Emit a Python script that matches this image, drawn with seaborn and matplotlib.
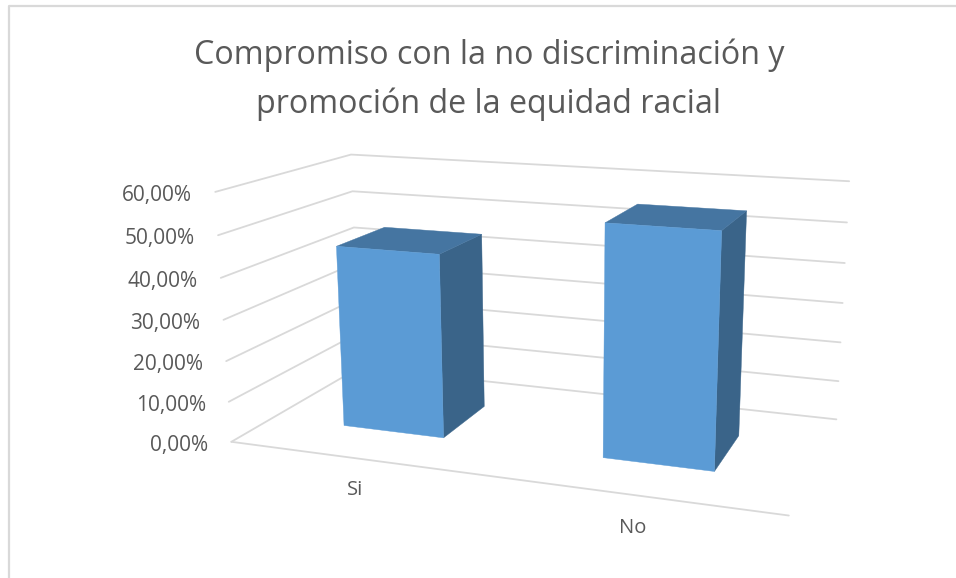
import matplotlib
matplotlib.use('Agg')
import matplotlib.pyplot as plt
import numpy as np
import pandas as pd
import seaborn as sns

# 图表数据
categories = ['Si', 'No']
values = [45.0, 55.0]
tick_values = [0, 10, 20, 30, 40, 50, 60]
tick_labels = ['0,00%', '10,00%', '20,00%', '30,00%', '40,00%', '50,00%', '60,00%']
title_text = 'Compromiso con la no discriminación y\npromoción de la equidad racial'

# bar footprint inside the floor, as fractions of width and depth
bar_spans = [(0.147, 0.348), (0.65, 0.847)]
depth_span = (0.30, 0.69)

FRONT = '#5B9BD5'
TOP = '#4575A1'
SIDE = '#3A6489'
GRID = '#D9D9D9'
TEXT = '#595959'

# box corners -> picture pixels, used to fit the camera of the fake 3d chart
anchors = [
    ((0, 0, 0), (231, 442)), ((0, 0, 60), (216, 192)),
    ((0, 0, 30), (223, 320)), ((0, 1, 60), (351, 154)),
    ((0, 1, 50), (352, 192)), ((0, 1, 0), (360, 367)),
    ((1, 1, 60), (849, 181)), ((1, 1, 30), (843, 303)),
    ((1, 1, 0), (836, 420)), ((1, 0, 0), (789, 515)),
]


def fit_camera(points):
    rows = []
    for (x, y, z), (u, v) in points:
        z = z / 60
        rows.append([x, y, z, 1, 0, 0, 0, 0, -u * x, -u * y, -u * z, -u])
        rows.append([0, 0, 0, 0, x, y, z, 1, -v * x, -v * y, -v * z, -v])
    _, _, vt = np.linalg.svd(np.array(rows, dtype=float))
    return vt[-1].reshape(3, 4)


camera = fit_camera(anchors)


def project(x, y, z):
    p = camera @ np.array([x, y, z / 60, 1.0])
    return p[0] / p[2], p[1] / p[2]


def draw_bar(ax, x0, x1, d0, d1, value):
    side = [project(x1, d0, 0), project(x1, d1, 0), project(x1, d1, value), project(x1, d0, value)]
    top = [project(x0, d0, value), project(x1, d0, value), project(x1, d1, value), project(x0, d1, value)]
    front = [project(x0, d0, 0), project(x1, d0, 0), project(x1, d0, value), project(x0, d0, value)]
    for poly, col in ((side, SIDE), (top, TOP), (front, FRONT)):
        ax.fill([q[0] for q in poly], [q[1] for q in poly], color=col, linewidth=0.3, zorder=3)


sns.set_theme(style='white')
plt.rcParams['font.family'] = ['Open Sans', 'DejaVu Sans']

fig = plt.figure(figsize=(9.56, 5.78), dpi=100)
ax = fig.add_axes([0, 0, 1, 1])

# 画网格线
segments = []
for i, t in enumerate(tick_values):
    a, b, c = project(0, 0, t), project(0, 1, t), project(1, 1, t)
    segments.append(pd.DataFrame({'px': [a[0], b[0], c[0]], 'py': [a[1], b[1], c[1]], 'seg': f'wall{i}'}))
a, b = project(0, 0, 0), project(1, 0, 0)
segments.append(pd.DataFrame({'px': [a[0], b[0]], 'py': [a[1], b[1]], 'seg': 'floor'}))
df_grid = pd.concat(segments, ignore_index=True)
sns.lineplot(data=df_grid, x='px', y='py', units='seg', estimator=None, sort=False,
             color=GRID, linewidth=1.3, ax=ax, legend=False)
ax.set_xlim(0, 956)
ax.set_ylim(578, 0)
ax.axis('off')

for (x0, x1), value in zip(bar_spans, values):
    draw_bar(ax, x0, x1, depth_span[0], depth_span[1], value)

for t, label in zip(tick_values, tick_labels):
    px, py = project(0, 0, t)
    ax.text(px - 23, py + 3.5, label, ha='right', va='center', fontsize=15, color=TEXT)

for cat, (px, py) in zip(categories, [(355, 490), (633, 528)]):
    ax.text(px, py, cat, ha='center', va='center', fontsize=14.5, color=TEXT)

ax.text(489, 80, title_text, ha='center', va='center', fontsize=23.2, color=TEXT, linespacing=1.6)

# 外框
ax.plot([9, 9, 956], [578, 6, 6], color='#D9D9D9', linewidth=1.6)

fig.savefig('out.png', dpi=100)
